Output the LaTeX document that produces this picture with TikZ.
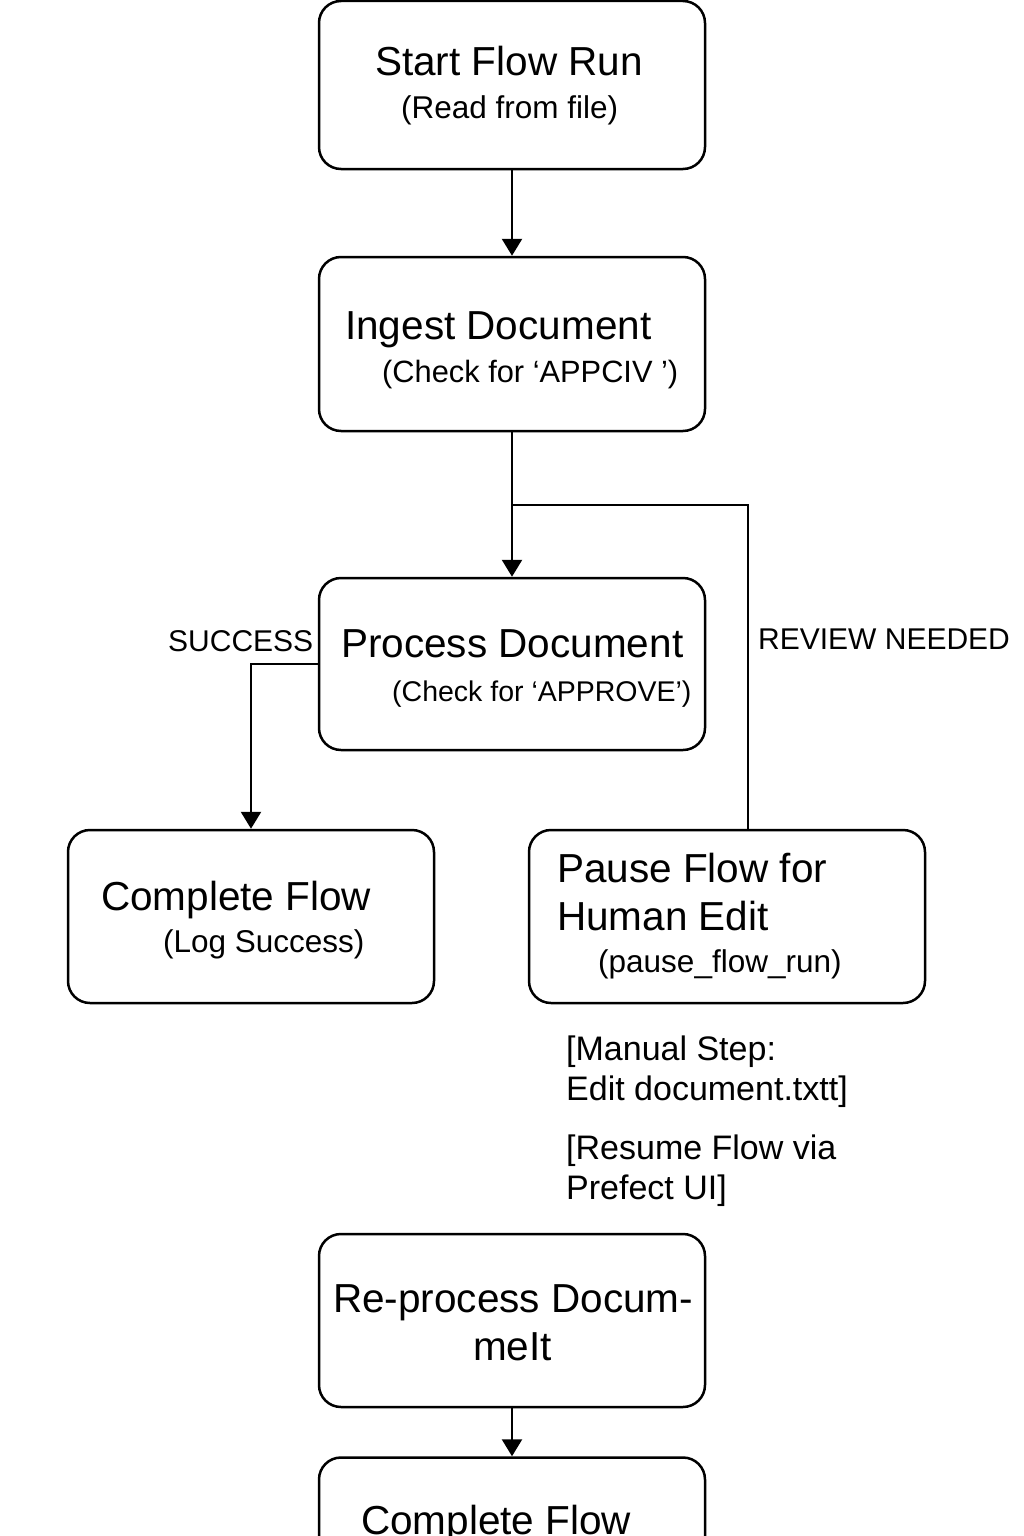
\documentclass[tikz,border=0pt]{standalone}
\usepackage{fontspec}
\setmainfont{Liberation Sans}
\usetikzlibrary{arrows.meta}
\tikzset{
  box/.style={draw, line width=2.5pt, rounded corners=22pt, minimum width=386pt, minimum height=172pt, inner sep=0pt},
  ttl/.style={inner sep=0pt, anchor=base west, font=\fontsize{40.5}{48}\selectfont},
  sub/.style={inner sep=0pt, anchor=base west, font=\fontsize{31.5}{38}\selectfont},
  lbl/.style={inner sep=0pt, anchor=base west, font=\fontsize{30}{36}\selectfont},
  note/.style={inner sep=0pt, anchor=base west, font=\fontsize{34}{40}\selectfont},
  conn/.style={line width=2.5pt},
  arr/.style={line width=2.5pt, -{Triangle[length=17pt,width=20pt]}}
}
\begin{document}
\begin{tikzpicture}[x=1pt,y=-1pt]
\useasboundingbox (0,0) rectangle (1024,1536);
\clip (0,0) rectangle (1024,1536);
\fill[white] (0,0) rectangle (1024,1536);
% boxes
\node[box, minimum height=168pt] (start) at (512,85) {};
\node[box, minimum height=174pt] (ingest) at (512,344) {};
\node[box] (process) at (512,664) {};
\node[box, minimum width=366pt, minimum height=173pt] (complete) at (251,916.5) {};
\node[box, minimum width=396pt, minimum height=173pt] (pause) at (727,916.5) {};
\node[box, minimum height=173pt] (reproc) at (512,1320.5) {};
\node[box, minimum height=173pt] (final) at (512,1544) {};
% texts
\node[ttl] (t1) at (375,76) {Start Flow Run};
\node[sub] (s1) at (401,119) {(Read from file)};
\node[ttl] (t2) at (345,339) {Ingest Document};
\node[sub, font=\fontsize{30.8}{38}\selectfont] (s2) at (382,382) {(Check for ‘APPCIV ’)};
\node[ttl] (t3) at (341,657) {Process Document};
\node[sub, font=\fontsize{28.5}{38}\selectfont] (s3) at (392,701) {(Check for ‘APPROVE’)};
\node[ttl] (t4) at (101,910) {Complete Flow};
\node[sub] (s4) at (163,952) {(Log Success)};
\node[ttl] (t5a) at (557,882) {Pause Flow for};
\node[ttl] (t5b) at (557,930) {Human Edit};
\node[sub] (s5) at (598,972) {(pause\_flow\_run)};
\node[ttl] (t6a) at (333,1312) {Re-process Docum-};
\node[ttl] (t6b) at (473,1360) {meIt};
\node[ttl] (t7) at (361,1534) {Complete Flow};
\node[lbl] (success) at (168,651) {SUCCESS};
\node[lbl] (review) at (758,649) {REVIEW NEEDED};
\node[note] (m1) at (566,1060) {[Manual Step:};
\node[note] (m2) at (566,1100) {Edit document.txtt]};
\node[note] (r1) at (566,1159) {[Resume Flow via};
\node[note] (r2) at (566,1199) {Prefect UI]};
% connectors
\coordinate (split) at (512,505);
\coordinate (rc) at (748,505);
\draw[arr] (start.south) -- (ingest.north);
\draw[arr] (ingest.south) -- (process.north);
\draw[conn] (split) -- (rc) -- (pause.north -| rc);
\draw[arr] (process.west) -| (complete.north);
\draw[arr] (reproc.south) -- (final.north);
\end{tikzpicture}
\end{document}
